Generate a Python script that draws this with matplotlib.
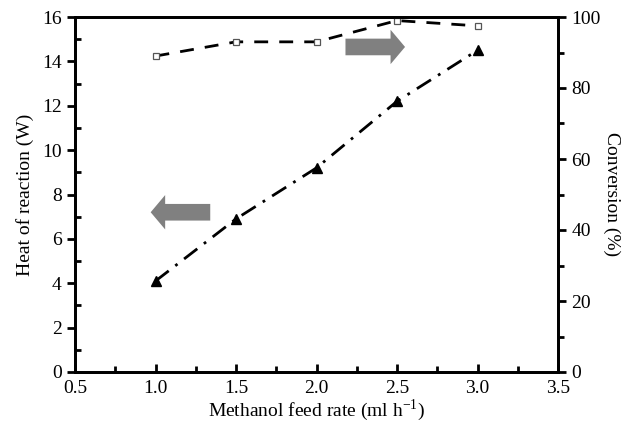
import numpy as np
import matplotlib.pyplot as plt
from matplotlib.patches import FancyArrow

plt.rcParams['font.family'] = ['Liberation Serif', 'DejaVu Serif']

feed_rate = [1.0, 1.5, 2.0, 2.5, 3.0]
heat = [4.1, 6.9, 9.2, 12.2, 14.5]
conversion = [89.0, 93.0, 93.0, 99.0, 97.5]

fig = plt.figure(figsize=(6.31, 4.28), dpi=100)
ax = fig.add_axes([75 / 631, 56 / 428, 483 / 631, 355 / 428])
ax2 = ax.twinx()

ax.plot(feed_rate, heat, color='black', lw=2, ls=(0, (6, 3, 1, 3)),
        marker='^', ms=7, mfc='black', mec='black')
ax2.plot(feed_rate, conversion, color='black', lw=2, ls=(0, (5, 4)),
         marker='s', ms=5, mfc='white', mec='#555555', mew=0.9)

ax.set_xlim(0.5, 3.5)
ax.set_ylim(0, 16)
ax2.set_ylim(0, 100)
ax.set_xticks(np.arange(0.5, 3.51, 0.5))
ax.set_xticks(np.arange(0.75, 3.5, 0.5), minor=True)
ax.set_yticks(np.arange(0, 16.1, 2))
ax.set_yticks(np.arange(1, 16, 2), minor=True)
ax2.set_yticks(np.arange(0, 101, 20))
ax2.set_yticks(np.arange(10, 100, 20), minor=True)
ax.xaxis.set_major_formatter(plt.FormatStrFormatter('%.1f'))

ax.tick_params(axis='x', which='major', direction='in', length=6, width=2, labelsize=14, pad=6)
ax.tick_params(axis='x', which='minor', direction='in', length=4, width=2)
ax.tick_params(axis='y', which='major', direction='out', length=6, width=2, labelsize=14)
ax.tick_params(axis='y', which='minor', direction='in', length=4, width=2)
ax2.tick_params(axis='y', which='major', direction='out', length=6, width=2, labelsize=14)
ax2.tick_params(axis='y', which='minor', direction='out', length=4, width=2)

for a in (ax, ax2):
    for s in a.spines.values():
        s.set_linewidth(2)

ax.set_xlabel('Methanol feed rate (ml h$^{\\mathregular{-1}}$)', fontsize=14, labelpad=0)
ax.set_ylabel('Heat of reaction (W)', fontsize=14, labelpad=6)
ax2.set_ylabel('Conversion (%)', fontsize=14, rotation=270, labelpad=14)

# gray block arrows
ax.add_patch(FancyArrow(2.18, 14.65, 0.37, 0, width=0.75, head_width=1.55,
                        head_length=0.09, length_includes_head=True,
                        color='#808080', lw=0))
ax.add_patch(FancyArrow(1.34, 7.2, -0.37, 0, width=0.75, head_width=1.55,
                        head_length=0.09, length_includes_head=True,
                        color='#808080', lw=0))

fig.savefig('out.png', dpi=100)
